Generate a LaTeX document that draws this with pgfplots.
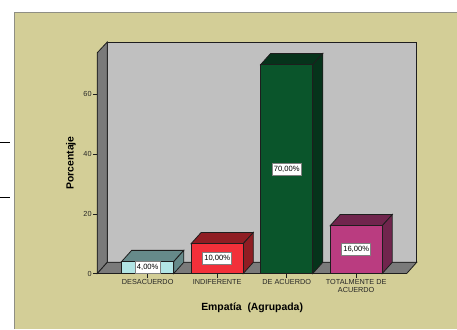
\documentclass[border=0pt]{standalone}
\usepackage{pgfplots}
\pgfplotsset{compat=1.18}
\usepackage{fontspec}
\setmainfont{Liberation Sans}
\definecolor{panel}{HTML}{D3CE97}
\definecolor{panelline}{HTML}{8F8F84}
\definecolor{wallback}{HTML}{C0C0C0}
\definecolor{wallside}{HTML}{7A7A7A}
\definecolor{edge}{HTML}{1E1E1E}
\definecolor{cyanfront}{HTML}{B2E5E5}
\definecolor{cyandark}{HTML}{668A8A}
\definecolor{redfront}{HTML}{F2303A}
\definecolor{reddark}{HTML}{8F1D23}
\definecolor{greenfront}{HTML}{0A552B}
\definecolor{greendark}{HTML}{06331B}
\definecolor{pinkfront}{HTML}{BA3C80}
\definecolor{pinkdark}{HTML}{70254D}
\definecolor{ticktext}{HTML}{262626}
% Depth offsets of the 3D effect, in axis units
\newcommand{\dpx}{0.144}
\newcommand{\dpy}{3.75}
% One box: top and side faces, then the front face, at position #1, value #2
\newcommand{\barbox}[4]{%
  \pgfmathsetmacro{\xl}{#1-0.375}%
  \pgfmathsetmacro{\xr}{#1+0.375}%
  \pgfmathsetmacro{\xbl}{\xl+\dpx}%
  \pgfmathsetmacro{\xbr}{\xr+\dpx}%
  \pgfmathsetmacro{\yb}{#2+\dpy}%
  \edef\temp{%
    \noexpand\addplot[draw=edge,line width=0.8pt,fill=#4] coordinates
      {(\xl,#2) (\xbl,\yb) (\xbr,\yb) (\xr,#2)} -- cycle;
    \noexpand\addplot[draw=edge,line width=0.8pt,fill=#4] coordinates
      {(\xr,0) (\xbr,\dpy) (\xbr,\yb) (\xr,#2)} -- cycle;
    \noexpand\addplot[draw=edge,line width=0.8pt,fill=#3] coordinates
      {(\xl,0) (\xl,#2) (\xr,#2) (\xr,0)} -- cycle;
  }\temp
}
\begin{document}
\begin{tikzpicture}[x=1pt,y=1pt]
  \path[use as bounding box] (0,0) rectangle (457,-329);
  \fill[white] (0,0) rectangle (457,-329);
  % Chart panel
  \fill[panel] (14,-12) rectangle (457,-329);
  \draw[panelline,line width=0.9pt] (14,-329) -- (14,-12) -- (457,-12);
  % Rules beside the panel
  \draw[black,line width=1.2pt] (0,-142.3) -- (10,-142.3);
  \draw[black,line width=1.2pt] (0,-197.7) -- (10,-197.7);
  \begin{axis}[
    at={(97.3pt,-273.5pt)}, anchor=south west,
    scale only axis, width=309.4pt, height=220.8pt,
    xmin=-0.725, xmax=3.727, ymin=0, ymax=74,
    clip=false,
    axis x line=bottom, axis y line=left,
    axis line style={-,draw=edge,line width=0.8pt},
    xtick={0,1,2,3},
    xticklabels={DESACUERDO,INDIFERENTE,DE ACUERDO,TOTALMENTE DE\\ACUERDO},
    ytick={0,20,40,60},
    tick style={draw=edge,line width=0.6pt},
    tick align=outside,
    major tick length=4.5pt,
    /pgf/number format/assume math mode=true,
    x tick label style={font=\fontsize{7.3}{8}\selectfont,text=ticktext,align=center,anchor=north,yshift=0.5pt,inner sep=1.5pt},
    y tick label style={font=\fontsize{7.3}{8}\selectfont,text=ticktext,inner sep=1pt},
    xlabel={\bfseries Empatía\ \ (Agrupada)},
    x label style={font=\fontsize{10.4}{12}\selectfont,at={(axis cs:1.503,0)},anchor=center,yshift=-34pt},
    ylabel={\bfseries Porcentaje},
    y label style={font=\fontsize{10.4}{12}\selectfont,at={(axis cs:-1.104,37)},anchor=center},
  ]
    % Walls and floor
    \addplot[draw=edge,line width=0.8pt,fill=wallback] coordinates
      {(-0.581,3.75) (-0.581,77.6) (3.871,77.6) (3.871,3.75)} -- cycle;
    \addplot[draw=edge,line width=0.8pt,fill=wallside] coordinates
      {(-0.725,0) (-0.581,3.75) (-0.581,77.6) (-0.725,74)} -- cycle;
    \addplot[draw=edge,line width=0.8pt,fill=wallside] coordinates
      {(-0.725,0) (-0.581,3.75) (3.871,3.75) (3.727,0)} -- cycle;
    % Bars
    \barbox{0}{4}{cyanfront}{cyandark}
    \barbox{1}{10}{redfront}{reddark}
    \barbox{2}{70}{greenfront}{greendark}
    \barbox{3}{16}{pinkfront}{pinkdark}
    % Value labels at mid-height of each bar
    \addplot[only marks,mark=none,point meta=explicit symbolic,
      nodes near coords,
      nodes near coords style={anchor=center,fill=white,draw=gray,line width=0.6pt,
        font=\fontsize{7.6}{8}\selectfont,text=black,inner xsep=1.6pt,inner ysep=0pt,
        minimum height=12pt,text height=5.5pt,text depth=0.8pt}]
      coordinates {(0,2) [4,00\%] (1,5) [10,00\%] (2,35) [70,00\%] (3,8) [16,00\%]};
  \end{axis}
\end{tikzpicture}
\end{document}
